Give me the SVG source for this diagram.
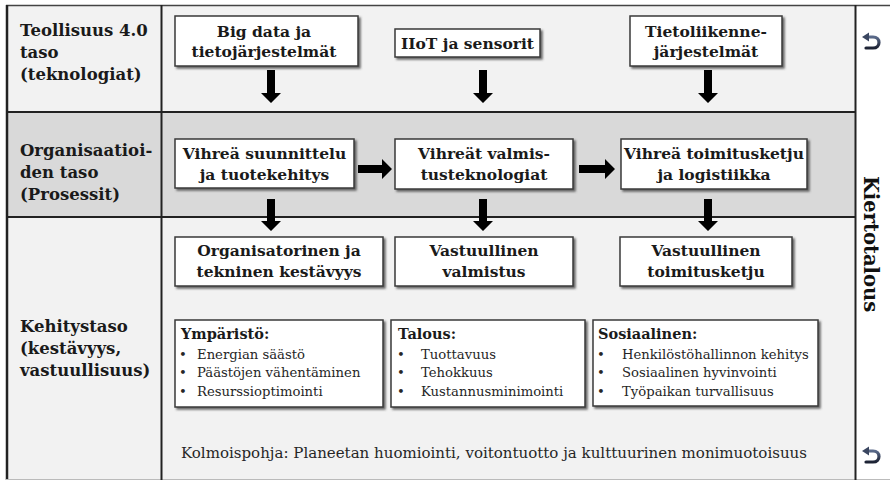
<svg xmlns="http://www.w3.org/2000/svg" width="890" height="481" viewBox="0 0 890 481">
<defs>
<style>
.lbl{font-family:"DejaVu Serif","Liberation Serif",serif;font-weight:bold;font-size:16.5px;fill:#1a1a1a}
.bt{font-family:"DejaVu Serif","Liberation Serif",serif;font-weight:bold;font-size:15.5px;fill:#1a1a1a;text-anchor:middle}
.hd{font-family:"DejaVu Serif","Liberation Serif",serif;font-weight:bold;font-size:14.5px;fill:#1a1a1a}
.it{font-family:"DejaVu Serif","Liberation Serif",serif;font-size:13.2px;fill:#262626}
.box{fill:#fff;stroke:#3a3a3a;stroke-width:1.5;filter:url(#sh)}
.grid{stroke:#222;stroke-width:2;fill:none}
.arr{fill:#000}
.icon{fill:none;stroke:url(#ig);stroke-width:3.2;stroke-linecap:round}
</style>
<filter id="sh" x="-10%" y="-10%" width="130%" height="140%">
<feDropShadow dx="2" dy="2" stdDeviation="1.2" flood-color="#444" flood-opacity="0.8"/>
</filter>
<linearGradient id="ig" x1="0" y1="0" x2="0" y2="1">
<stop offset="0" stop-color="#5a6a8a"/>
<stop offset="1" stop-color="#1c2233"/>
</linearGradient>
<g id="iconshape">
<path class="icon" d="M 868 0 L 873 0 C 881 0, 881 11, 873 11 L 866 11"/>
<polygon points="862,0 869,-4.5 869,4.5" fill="#3a4660"/>
</g>
</defs>

<!-- backgrounds -->
<rect x="7" y="5" width="848" height="107" fill="#f2f2f2"/>
<rect x="7" y="112" width="848" height="105" fill="#d9d9d9"/>
<rect x="7" y="217" width="848" height="263" fill="#f2f2f2"/>
<rect x="855" y="5" width="35" height="475" fill="#fff"/>

<!-- grid -->
<g id="grid">
<line x1="6" y1="5.5" x2="890" y2="5.5" stroke="#444" stroke-width="1.5"/>
<line x1="7" y1="5" x2="7" y2="480" stroke="#222" stroke-width="2.5"/>
<line x1="6" y1="479.5" x2="890" y2="479.5" stroke="#bbb" stroke-width="1.2"/>
<line class="grid" x1="161.5" y1="5" x2="161.5" y2="480"/>
<line class="grid" x1="855.5" y1="5" x2="855.5" y2="480"/>
<line class="grid" x1="7" y1="112" x2="855.5" y2="112"/>
<line class="grid" x1="7" y1="217" x2="855.5" y2="217"/>
</g>

<!-- left labels -->
<g id="label-industry">
<text class="lbl" x="20" y="36">Teollisuus 4.0</text>
<text class="lbl" x="20" y="58">taso</text>
<text class="lbl" x="20" y="80">(teknologiat)</text>
</g>
<g id="label-org">
<text class="lbl" x="20" y="156">Organisaatioi-</text>
<text class="lbl" x="20" y="178">den taso</text>
<text class="lbl" x="20" y="200">(Prosessit)</text>
</g>
<g id="label-dev">
<text class="lbl" x="20" y="332">Kehitystaso</text>
<text class="lbl" x="20" y="354">(kestävyys,</text>
<text class="lbl" x="20" y="376">vastuullisuus)</text>
</g>

<!-- right column -->
<g id="circular">
<text x="0" y="0" transform="translate(864,244) rotate(90)" font-family="'DejaVu Serif','Liberation Serif',serif" font-weight="bold" font-size="19.5" fill="#111" text-anchor="middle">Kiertotalous</text>
<use href="#iconshape" transform="translate(0,37)"/>
<use href="#iconshape" transform="translate(0,451)"/>
</g>

<!-- row 1 nodes -->
<g id="n-bigdata">
<rect class="box" x="175" y="16" width="183" height="50"/>
<text class="bt" x="264" y="36.5">Big data ja</text>
<text class="bt" x="264" y="56.5">tietojärjestelmät</text>
</g>
<g id="n-iiot">
<rect class="box" x="395" y="29" width="145" height="28"/>
<text class="bt" x="467.5" y="48.5">IIoT ja sensorit</text>
</g>
<g id="n-tele">
<rect class="box" x="630" y="16" width="152" height="50"/>
<text class="bt" x="706" y="36.5">Tietoliikenne-</text>
<text class="bt" x="706" y="56.5">järjestelmät</text>
</g>

<!-- row 2 nodes -->
<g id="n-design">
<rect class="box" x="175" y="139" width="179" height="49"/>
<text class="bt" x="264.5" y="159">Vihreä suunnittelu</text>
<text class="bt" x="264.5" y="179.5">ja tuotekehitys</text>
</g>
<g id="n-manuf">
<rect class="box" x="395" y="139" width="178" height="50"/>
<text class="bt" x="484" y="159">Vihreät valmis-</text>
<text class="bt" x="484" y="179.5">tusteknologiat</text>
</g>
<g id="n-supply">
<rect class="box" x="621" y="139" width="186" height="50"/>
<text class="bt" x="714" y="159">Vihreä toimitusketju</text>
<text class="bt" x="714" y="179.5">ja logistiikka</text>
</g>

<!-- row 3 nodes -->
<g id="n-orgsus">
<rect class="box" x="175" y="237" width="208" height="49"/>
<text class="bt" x="279" y="256">Organisatorinen ja</text>
<text class="bt" x="279" y="276.5">tekninen kestävyys</text>
</g>
<g id="n-respmanuf">
<rect class="box" x="395" y="237" width="178" height="49"/>
<text class="bt" x="484" y="256">Vastuullinen</text>
<text class="bt" x="484" y="276.5">valmistus</text>
</g>
<g id="n-respsupply">
<rect class="box" x="620" y="237" width="172" height="49"/>
<text class="bt" x="706" y="256">Vastuullinen</text>
<text class="bt" x="706" y="276.5">toimitusketju</text>
</g>

<!-- bullet boxes -->
<g id="n-env">
<rect class="box" x="175" y="320" width="208" height="87"/>
<text class="hd" x="181" y="339">Ympäristö:</text>
<text class="it" x="179" y="358.5">•</text><text class="it" x="197" y="358.5">Energian säästö</text>
<text class="it" x="179" y="377">•</text><text class="it" x="197" y="377">Päästöjen vähentäminen</text>
<text class="it" x="179" y="395.5">•</text><text class="it" x="197" y="395.5">Resurssioptimointi</text>
</g>
<g id="n-econ">
<rect class="box" x="391" y="320" width="194" height="87"/>
<text class="hd" x="398" y="339">Talous:</text>
<text class="it" x="397" y="358.5">•</text><text class="it" x="421" y="358.5">Tuottavuus</text>
<text class="it" x="397" y="377">•</text><text class="it" x="421" y="377">Tehokkuus</text>
<text class="it" x="397" y="395.5">•</text><text class="it" x="421" y="395.5">Kustannusminimointi</text>
</g>
<g id="n-social">
<rect class="box" x="593" y="320" width="225" height="86"/>
<text class="hd" x="598" y="339">Sosiaalinen:</text>
<text class="it" x="597" y="358.5">•</text><text class="it" x="622" y="358.5">Henkilöstöhallinnon kehitys</text>
<text class="it" x="597" y="377">•</text><text class="it" x="622" y="377">Sosiaalinen hyvinvointi</text>
<text class="it" x="597" y="395.5">•</text><text class="it" x="622" y="395.5">Työpaikan turvallisuus</text>
</g>

<g id="n-triple">
<text x="181" y="458" font-family="'DejaVu Serif','Liberation Serif',serif" font-size="14" fill="#262626" textLength="626" lengthAdjust="spacingAndGlyphs">Kolmoispohja: Planeetan huomiointi, voitontuotto ja kulttuurinen monimuotoisuus</text>
</g>

<!-- connectors -->
<g id="connectors">
<polygon class="arr" points="267,70 275,70 275,93 281,93 271,103 261,93 267,93"/>
<polygon class="arr" points="479,70 487,70 487,93 493,93 483,103 473,93 479,93"/>
<polygon class="arr" points="704,70 712,70 712,93 718,93 708,103 698,93 704,93"/>
<polygon class="arr" points="267,199 275,199 275,221 281,221 271,231 261,221 267,221"/>
<polygon class="arr" points="479,199 487,199 487,221 493,221 483,231 473,221 479,221"/>
<polygon class="arr" points="704,199 712,199 712,221 718,221 708,231 698,221 704,221"/>
<polygon class="arr" points="358,165 382,165 382,159 392,169 382,179 382,173 358,173"/>
<polygon class="arr" points="579,165 605,165 605,159 615,169 605,179 605,173 579,173"/>
</g>
</svg>
